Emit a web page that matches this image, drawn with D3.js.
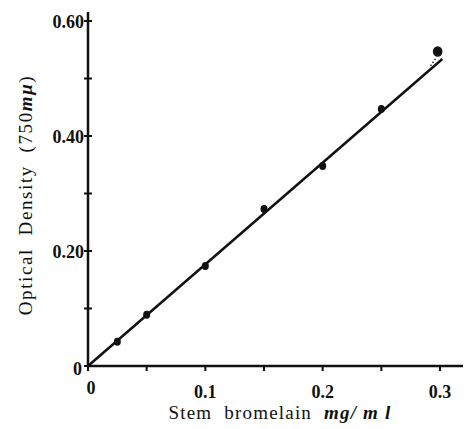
<!DOCTYPE html>
<html>
<head>
<meta charset="utf-8">
<script src="https://cdn.jsdelivr.net/npm/d3@7"></script>
<style>
  body { margin: 0; background: #fff; }
  text { font-family: "Liberation Serif", "DejaVu Serif", serif; fill: #111; white-space: pre; }
</style>
</head>
<body>
<div id="chart"></div>
<script>
// measured points (stem bromelain mg/ml vs optical density at 750 mμ)
const concentrations = [0.025, 0.05, 0.1, 0.15, 0.2, 0.25, 0.298];
const densities = [0.042, 0.089, 0.174, 0.273, 0.348, 0.447, 0.547];

// fitted line, drawn from origin
const fitX = [0, 0.302];
const fitY = [0, 0.534];

const xMajor = [0, 0.1, 0.2, 0.3];
const xMajorLabels = ["0", "0.1", "0.2", "0.3"];
const xMinor = [0.05, 0.15, 0.25];
const yMajor = [0, 0.2, 0.4, 0.6];
const yMajorLabels = ["0", "0.20", "0.40", "0.60"];
const yMinor = [0.1, 0.3, 0.5];

const width = 467;
const height = 429;

const x = d3.scaleLinear().domain([0, 0.3]).range([88, 440]);
const y = d3.scaleLinear().domain([0, 0.6]).range([366, 21]);

const svg = d3.select("#chart")
    .append("svg")
    .attr("width", width)
    .attr("height", height);

// axes
svg.append("line")
    .attr("x1", x(0)).attr("x2", 463)
    .attr("y1", y(0)).attr("y2", y(0))
    .attr("stroke", "#111").attr("stroke-width", 2.5);

svg.append("line")
    .attr("x1", x(0)).attr("x2", x(0))
    .attr("y1", y(0) + 1).attr("y2", 12)
    .attr("stroke", "#111").attr("stroke-width", 2.5);

// x ticks
svg.selectAll(".xtick")
    .data(xMajor.concat(xMinor))
    .enter().append("line")
    .attr("x1", d => x(d)).attr("x2", d => x(d))
    .attr("y1", y(0)).attr("y2", y(0) + 5)
    .attr("stroke", "#111").attr("stroke-width", 2);

svg.selectAll(".xlab")
    .data(xMajor)
    .enter().append("text")
    .attr("x", d => x(d) + (d === 0 ? 3 : 0))
    .attr("y", d => y(0) + (d === 0 ? 28 : 32))
    .attr("text-anchor", "middle")
    .attr("font-size", 18)
    .attr("font-weight", "bold")
    .text((d, i) => xMajorLabels[i]);

// y ticks
svg.selectAll(".ytick")
    .data(yMajor.concat(yMinor))
    .enter().append("line")
    .attr("x1", x(0) - 4).attr("x2", x(0) + 4)
    .attr("y1", d => y(d)).attr("y2", d => y(d))
    .attr("stroke", "#111").attr("stroke-width", 2);

svg.selectAll(".ylab")
    .data(yMajor)
    .enter().append("text")
    .attr("x", d => x(0) - (d === 0 ? 6 : 4))
    .attr("y", d => y(d) + (d === 0 ? 9 : 7))
    .attr("text-anchor", "end")
    .attr("font-size", 18)
    .attr("font-weight", "bold")
    .text((d, i) => yMajorLabels[i]);

// fitted line
const line = d3.line()
    .x((d, i) => x(fitX[i]))
    .y(d => y(d));

svg.append("path")
    .datum(fitY)
    .attr("d", line)
    .attr("fill", "none")
    .attr("stroke", "#111")
    .attr("stroke-width", 2.5);

// short dotted tail towards last point
svg.append("line")
    .attr("x1", x(0.292)).attr("y1", y(0.522))
    .attr("x2", x(0.297)).attr("y2", y(0.537))
    .attr("stroke", "#333").attr("stroke-width", 1.5)
    .attr("stroke-dasharray", "1.5,2");

// data points
svg.selectAll(".pt")
    .data(concentrations)
    .enter().append("ellipse")
    .attr("cx", d => x(d))
    .attr("cy", (d, i) => y(densities[i]))
    .attr("rx", (d, i) => i === concentrations.length - 1 ? 4.8 : 3.5)
    .attr("ry", (d, i) => i === concentrations.length - 1 ? 5.3 : 4)
    .attr("fill", "#111");

// axis titles
const xt = svg.append("text")
    .attr("x", 280)
    .attr("y", 419)
    .attr("text-anchor", "middle")
    .attr("font-size", 19)
    .attr("letter-spacing", 1.2);
xt.append("tspan").text("Stem  bromelain  ");
xt.append("tspan").attr("font-style", "italic").attr("font-weight", "bold").text("mg/ m l");

const yt = svg.append("text")
    .attr("transform", "translate(32,195) rotate(-90)")
    .attr("text-anchor", "middle")
    .attr("font-size", 19)
    .attr("letter-spacing", 1.6);
yt.append("tspan").text("Optical  Density  (750");
yt.append("tspan").attr("font-style", "italic").attr("font-weight", "bold").text("mμ");
yt.append("tspan").text(")");
</script>
</body>
</html>
